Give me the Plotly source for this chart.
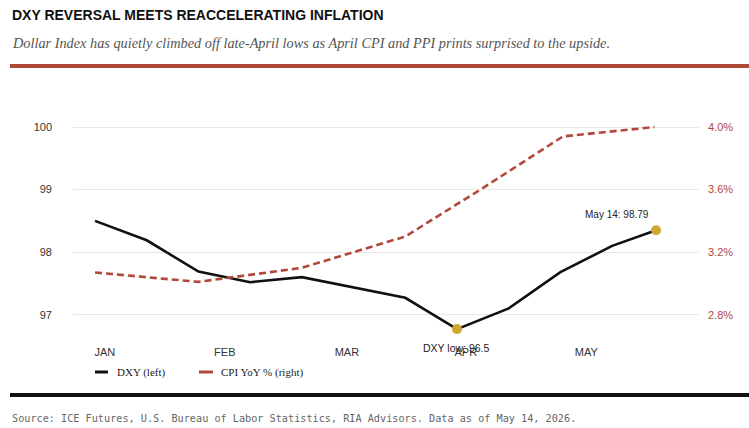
import plotly.graph_objects as go

# ---- data ----
dxy_x = [0, 1, 2, 3, 4, 5, 6, 7, 8, 9, 10, 10.85]
dxy_values = [98.50, 98.19, 97.69, 97.52, 97.60, 97.44, 97.27, 96.77, 97.10, 97.68, 98.10, 98.35]
cpi_x = [0, 2, 4, 6, 7.5, 9.05, 10.82]
cpi_values = [3.07, 3.01, 3.10, 3.30, 3.61, 3.94, 4.00]
month_ticks = [0.19, 2.51, 4.87, 7.17, 9.5]
month_labels = ["JAN", "FEB", "MAR", "APR", "MAY"]
left_ticks = [97, 98, 99, 100]
right_ticks = [2.8, 3.2, 3.6, 4.0]
right_labels = ["2.8%", "3.2%", "3.6%", "4.0%"]
low_idx = 7
last_idx = 11
low_label = "DXY low: 96.5"
last_label = "May 14: 98.79"

RED = "#b0493a"
GOLD = "#cfa92e"
W, H = 749, 428
ML, MR, MT, MB = 73, 50, 102, 82
PW, PH = W - ML - MR, H - MT - MB

def px(x):
    return (x - ML) / PW

def py(y):
    return (H - MB - y) / PH

fig = go.Figure()
fig.add_trace(go.Scatter(x=dxy_x, y=dxy_values, mode="lines",
                         line=dict(color="#111111", width=2.6), yaxis="y",
                         showlegend=False, hoverinfo="skip"))
fig.add_trace(go.Scatter(x=cpi_x, y=cpi_values, mode="lines",
                         line=dict(color=RED, width=2.6, dash="7px,4px"), yaxis="y2",
                         showlegend=False, hoverinfo="skip"))
fig.add_trace(go.Scatter(x=[dxy_x[low_idx], dxy_x[last_idx]],
                         y=[dxy_values[low_idx], dxy_values[last_idx]],
                         mode="markers", marker=dict(color=GOLD, size=10),
                         showlegend=False, hoverinfo="skip"))

fig.add_annotation(x=dxy_x[last_idx], y=dxy_values[last_idx], text=last_label,
                   showarrow=False, xshift=-39, yshift=16,
                   font=dict(family="Liberation Sans, Arial", size=10, color="#222"))
fig.add_annotation(x=dxy_x[low_idx], y=dxy_values[low_idx], text=low_label,
                   showarrow=False, xshift=-1, yshift=-19,
                   font=dict(family="Liberation Sans, Arial", size=10.5, color="#222"))

# title / subtitle / source
fig.add_annotation(xref="paper", yref="paper", x=px(10), y=py(15), xanchor="left", yanchor="middle",
                   text="<b>DXY REVERSAL MEETS REACCELERATING INFLATION</b>", showarrow=False,
                   font=dict(family="Liberation Sans, Arial", size=14, color="#111"))
fig.add_annotation(xref="paper", yref="paper", x=px(10), y=py(43), xanchor="left", yanchor="middle",
                   text="<i>Dollar Index has quietly climbed off late-April lows as April CPI and PPI prints surprised to the upside.</i>",
                   showarrow=False,
                   font=dict(family="Liberation Serif, Times New Roman", size=14.3, color="#555"))
fig.add_annotation(xref="paper", yref="paper", x=px(10), y=py(418), xanchor="left", yanchor="middle",
                   text="Source: ICE Futures, U.S. Bureau of Labor Statistics, RIA Advisors. Data as of May 14, 2026.",
                   showarrow=False,
                   font=dict(family="DejaVu Sans Mono, Liberation Mono", size=10.2, color="#666"))

# legend (manual)
fig.add_shape(type="line", xref="paper", yref="paper", x0=px(95), x1=px(108), y0=py(372), y1=py(372),
              line=dict(color="#111111", width=3))
fig.add_annotation(xref="paper", yref="paper", x=px(115), y=py(372), xanchor="left", yanchor="middle",
                   text="DXY (left)", showarrow=False,
                   font=dict(family="Liberation Serif, Times New Roman", size=11, color="#222"))
fig.add_shape(type="line", xref="paper", yref="paper", x0=px(199), x1=px(213), y0=py(372), y1=py(372),
              line=dict(color=RED, width=3))
fig.add_annotation(xref="paper", yref="paper", x=px(219), y=py(372), xanchor="left", yanchor="middle",
                   text="CPI YoY % (right)", showarrow=False,
                   font=dict(family="Liberation Serif, Times New Roman", size=11, color="#222"))

# rules
fig.add_shape(type="line", xref="paper", yref="paper", x0=px(10), x1=px(749), y0=py(66), y1=py(66),
              line=dict(color=RED, width=4))
fig.add_shape(type="line", xref="paper", yref="paper", x0=px(10), x1=px(749), y0=py(395), y1=py(395),
              line=dict(color="#111111", width=4))

tickfont = dict(family="Liberation Sans, Arial", size=11, color="#333")
fig.update_layout(
    width=W, height=H, margin=dict(l=ML, r=MR, t=MT, b=MB, autoexpand=False),
    paper_bgcolor="white", plot_bgcolor="white",
    xaxis=dict(range=[-0.426, 11.68], tickvals=month_ticks, ticktext=month_labels,
               showgrid=False, zeroline=False, showline=False, ticks="",
               ticklabelstandoff=-2,
               tickfont=tickfont, fixedrange=True),
    yaxis=dict(range=[96.5, 100.4], tickvals=left_ticks, showgrid=True, gridcolor="#e8e8e8",
               gridwidth=1, zeroline=False, showline=False, ticks="", ticklabelstandoff=20,
               tickfont=tickfont),
    yaxis2=dict(range=[2.6, 4.16], tickvals=right_ticks, ticktext=right_labels, overlaying="y",
                side="right", showgrid=False, zeroline=False, showline=False, ticks="",
                ticklabelstandoff=8,
                tickfont=dict(family="Liberation Sans, Arial", size=11, color=RED)),
)

fig.write_html("out.html")
